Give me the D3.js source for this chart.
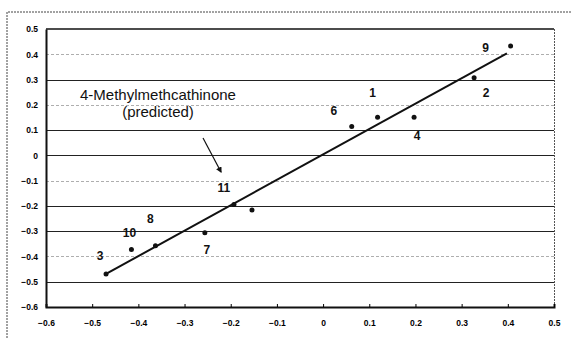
<!DOCTYPE html>
<html lang="en">
<head>
    <meta charset="UTF-8">
    <title>4-Methylmethcathinone correlation</title>
    <script src="https://d3js.org/d3.v7.min.js"></script>
    <style>
        body {
            margin: 0;
            background-color: #fff;
            font-family: Arial, "Liberation Sans", sans-serif;
        }
        .tick-label {
            font-size: 8.5px;
            font-weight: bold;
            fill: #000;
        }
        .pt-label {
            font-size: 12px;
            font-weight: bold;
            fill: #111;
            text-anchor: middle;
            dominant-baseline: middle;
        }
        .note {
            font-size: 15px;
            fill: #111;
            text-anchor: middle;
        }
    </style>
</head>
<body>
<svg id="chart"></svg>
<script>
    const width = 571;
    const height = 338;

    const names = ["3", "10", "8", "7", "11", "", "6", "1", "4", "2", "9"];
    const xValues = [-0.47, -0.415, -0.363, -0.256, -0.193, -0.154, 0.062, 0.118, 0.197, 0.327, 0.406];
    const yValues = [-0.469, -0.372, -0.358, -0.306, -0.194, -0.216, 0.114, 0.151, 0.151, 0.307, 0.433];

    // regression line end points
    const fitX = [-0.468, 0.398];
    const fitY = [-0.467, 0.404];

    // arrow to the predicted compound
    const arrowX = [-0.26, -0.221];
    const arrowY = [0.069, -0.066];

    const ticks = [-0.6, -0.5, -0.4, -0.3, -0.2, -0.1, 0, 0.1, 0.2, 0.3, 0.4, 0.5];

    // label offsets in px
    const labelOffset = {
        "3": [-6, -17], "10": [-2, -16], "8": [-5, -26], "7": [2, 18], "11": [-10, -16],
        "6": [-18, -15], "1": [-5, -23], "4": [3, 20], "2": [12, 16], "9": [-25, 3]
    };

    const svg = d3.select("#chart")
        .attr("width", width)
        .attr("height", height);

    const x = d3.scaleLinear().domain([-0.6, 0.5]).range([46, 554]);
    const y = d3.scaleLinear().domain([-0.6, 0.5]).range([307, 29]);

    // outer frame (dotted)
    svg.append("path")
        .attr("d", `M7,${height} L7,12 L${width},12`)
        .attr("fill", "none")
        .attr("stroke", "#444")
        .attr("stroke-width", 1)
        .attr("stroke-dasharray", "2,1");

    // gridlines, some faint from the scan
    const faint = [0.4, 0.2, -0.1, -0.4];
    const isFaint = d => faint.some(f => Math.abs(f - d) < 1e-9);
    svg.append("g")
        .selectAll("line")
        .data(ticks.slice(1, -1))
        .enter().append("line")
        .attr("x1", x(-0.6))
        .attr("x2", x(0.5))
        .attr("y1", d => Math.round(y(d)) + 0.5)
        .attr("y2", d => Math.round(y(d)) + 0.5)
        .attr("stroke", d => isFaint(d) ? "#999" : "#222")
        .attr("stroke-width", d => isFaint(d) ? 0.8 : 1.2)
        .attr("stroke-dasharray", d => isFaint(d) ? "3,2" : null);

    // plot border
    svg.append("line")
        .attr("x1", x(-0.6)).attr("x2", x(0.5))
        .attr("y1", y(0.5)).attr("y2", y(0.5))
        .attr("stroke", "#111").attr("stroke-width", 1.5);
    svg.append("line")
        .attr("x1", x(0.5) + 0.5).attr("x2", x(0.5) + 0.5)
        .attr("y1", y(0.5)).attr("y2", y(-0.6))
        .attr("stroke", "#555").attr("stroke-width", 1)
        .attr("stroke-dasharray", "2,1");

    // axes
    const fmt = d => d === 0 ? "0" : d3.format(".1f")(d);
    const xAxis = d3.axisBottom(x)
        .tickValues(ticks)
        .tickSize(-3)
        .tickPadding(13)
        .tickFormat(fmt);
    const gx = svg.append("g")
        .attr("transform", `translate(0,${y(-0.6)})`)
        .call(xAxis);
    gx.select(".domain").attr("stroke", "#111").attr("stroke-width", 2);
    gx.selectAll(".tick text").attr("class", "tick-label");

    const yAxis = d3.axisLeft(y)
        .tickValues(ticks)
        .tickSize(0)
        .tickPadding(8)
        .tickFormat(fmt);
    const gy = svg.append("g")
        .attr("transform", `translate(${x(-0.6)},0)`)
        .call(yAxis);
    gy.select(".domain").attr("stroke", "#111").attr("stroke-width", 2);
    gy.selectAll(".tick text").attr("class", "tick-label");

    // regression line
    const line = d3.line().x(d => x(d[0])).y(d => y(d[1]));
    svg.append("path")
        .datum(d3.zip(fitX, fitY))
        .attr("d", line)
        .attr("fill", "none")
        .attr("stroke", "#111")
        .attr("stroke-width", 2);

    // points
    const pts = d3.zip(names, xValues, yValues);
    svg.append("g")
        .selectAll("circle")
        .data(pts)
        .enter().append("circle")
        .attr("cx", d => x(d[1]))
        .attr("cy", d => y(d[2]))
        .attr("r", 2.5)
        .attr("fill", "#111");

    svg.append("g")
        .selectAll("text")
        .data(pts.filter(d => d[0] !== ""))
        .enter().append("text")
        .attr("class", "pt-label")
        .attr("x", d => x(d[1]) + labelOffset[d[0]][0])
        .attr("y", d => y(d[2]) + labelOffset[d[0]][1])
        .text(d => d[0]);

    // annotation
    svg.append("defs").append("marker")
        .attr("id", "head")
        .attr("viewBox", "0 0 10 10")
        .attr("refX", 8).attr("refY", 5)
        .attr("markerWidth", 5).attr("markerHeight", 5)
        .attr("orient", "auto")
        .append("path")
        .attr("d", "M0,0 L10,5 L0,10 Z")
        .attr("fill", "#111");

    svg.append("path")
        .datum(d3.zip(arrowX, arrowY))
        .attr("d", line)
        .attr("stroke", "#111")
        .attr("stroke-width", 1.2)
        .attr("marker-end", "url(#head)");

    svg.append("text").attr("class", "note")
        .attr("x", 158).attr("y", 100)
        .text("4-Methylmethcathinone");
    svg.append("text").attr("class", "note")
        .attr("x", 158).attr("y", 117)
        .text("(predicted)");
</script>
</body>
</html>
